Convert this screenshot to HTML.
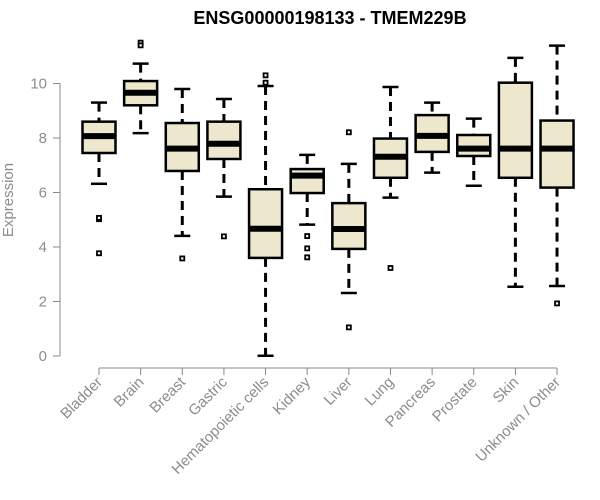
<!DOCTYPE html>
<html><head><meta charset="utf-8"><style>
body{margin:0;background:#fff;}
svg{display:block;font-family:"Liberation Sans",Arial,sans-serif;}
</style></head><body>
<svg id="chart" width="600" height="500">
<text x="330" y="24" text-anchor="middle" font-weight="bold" font-size="18" fill="#000">ENSG00000198133 - TMEM229B</text>
<text transform="translate(13,200) rotate(-90)" text-anchor="middle" font-size="15" fill="#8c8c8c">Expression</text>
<g id="yaxis"></g>
<g id="xaxis"></g>
<g id="boxes"></g>
</svg>
<script>
const categories=["Bladder","Brain","Breast","Gastric","Hematopoietic cells","Kidney","Liver","Lung","Pancreas","Prostate","Skin","Unknown / Other"];
const whiskerLow=[6.32,8.18,4.41,5.85,0.01,4.82,2.31,5.81,6.73,6.25,2.54,2.57];
const q1=[7.45,9.2,6.79,7.23,3.6,5.98,3.93,6.54,7.49,7.34,6.54,6.18];
const medians=[8.07,9.66,7.61,7.79,4.67,6.62,4.66,7.31,8.08,7.61,7.61,7.61];
const q3=[8.6,10.09,8.55,8.6,6.12,6.86,5.61,7.98,8.84,8.11,10.03,8.64];
const whiskerHigh=[9.3,10.73,9.8,9.43,9.91,7.38,7.05,9.87,9.3,8.71,10.94,11.39];
const outliers=[[5.02,5.07,3.77],[11.5,11.4],[3.58],[4.39],[10.3,10.03],[4.4,3.95,3.62],[8.21,1.05],[3.23],[],[],[],[1.93]];
const yTicks=[0,2,4,6,8,10];
const NS="http://www.w3.org/2000/svg";
const y=v=>356-v*27.25;
const x=i=>99+i*41.64;
function mk(tag,attrs,parent){const e=document.createElementNS(NS,tag);for(const k in attrs)e.setAttribute(k,attrs[k]);parent.appendChild(e);return e;}
const ya=document.getElementById('yaxis'),xa=document.getElementById('xaxis'),bx=document.getElementById('boxes');
mk('line',{x1:60,x2:60,y1:y(10),y2:y(0),stroke:'#888','stroke-width':1},ya);
yTicks.forEach(t=>{
  mk('line',{x1:53,x2:60,y1:y(t),y2:y(t),stroke:'#888'},ya);
  const tx=mk('text',{x:47,y:y(t)+5,'text-anchor':'end','font-size':15,fill:'#8c8c8c'},ya);
  tx.textContent=t;
  
  
});
mk('line',{x1:x(0),x2:x(categories.length-1),y1:368,y2:368,stroke:'#888'},xa);
categories.forEach((c,i)=>{
  mk('line',{x1:x(i),x2:x(i),y1:368,y2:375,stroke:'#888'},xa);
  const tx=mk('text',{transform:`translate(${x(i)+4},${383}) rotate(-45)`,'text-anchor':'end','font-size':15,fill:'#8c8c8c'},xa);
  tx.textContent=c;
  
  
});
categories.forEach((c,i)=>{
  const g=mk('g',{},bx);
  
  
  const cx=x(i);
  mk('line',{x1:cx,x2:cx,y1:y(whiskerHigh[i]),y2:y(q3[i]),stroke:'#000','stroke-width':3,'stroke-dasharray':'9,6'},g);
  mk('line',{x1:cx,x2:cx,y1:y(q1[i]),y2:y(whiskerLow[i]),stroke:'#000','stroke-width':3,'stroke-dasharray':'9,6'},g);
  mk('line',{x1:cx-8,x2:cx+8,y1:y(whiskerHigh[i]),y2:y(whiskerHigh[i]),stroke:'#000','stroke-width':2.5},g);
  mk('line',{x1:cx-8,x2:cx+8,y1:y(whiskerLow[i]),y2:y(whiskerLow[i]),stroke:'#000','stroke-width':2.5},g);
  mk('rect',{x:cx-16.5,y:y(q3[i]),width:33,height:y(q1[i])-y(q3[i]),fill:'#ede7cd',stroke:'#000','stroke-width':2.5},g);
  mk('line',{x1:cx-16.5,x2:cx+16.5,y1:y(medians[i]),y2:y(medians[i]),stroke:'#000','stroke-width':6},g);
  outliers[i].forEach(o=>{
    const r=mk('rect',{x:cx-2,y:y(o)-2,width:4,height:4,fill:'#fff',stroke:'#000','stroke-width':1.8},g);
    
    
  });
});
</script>
</body></html>
